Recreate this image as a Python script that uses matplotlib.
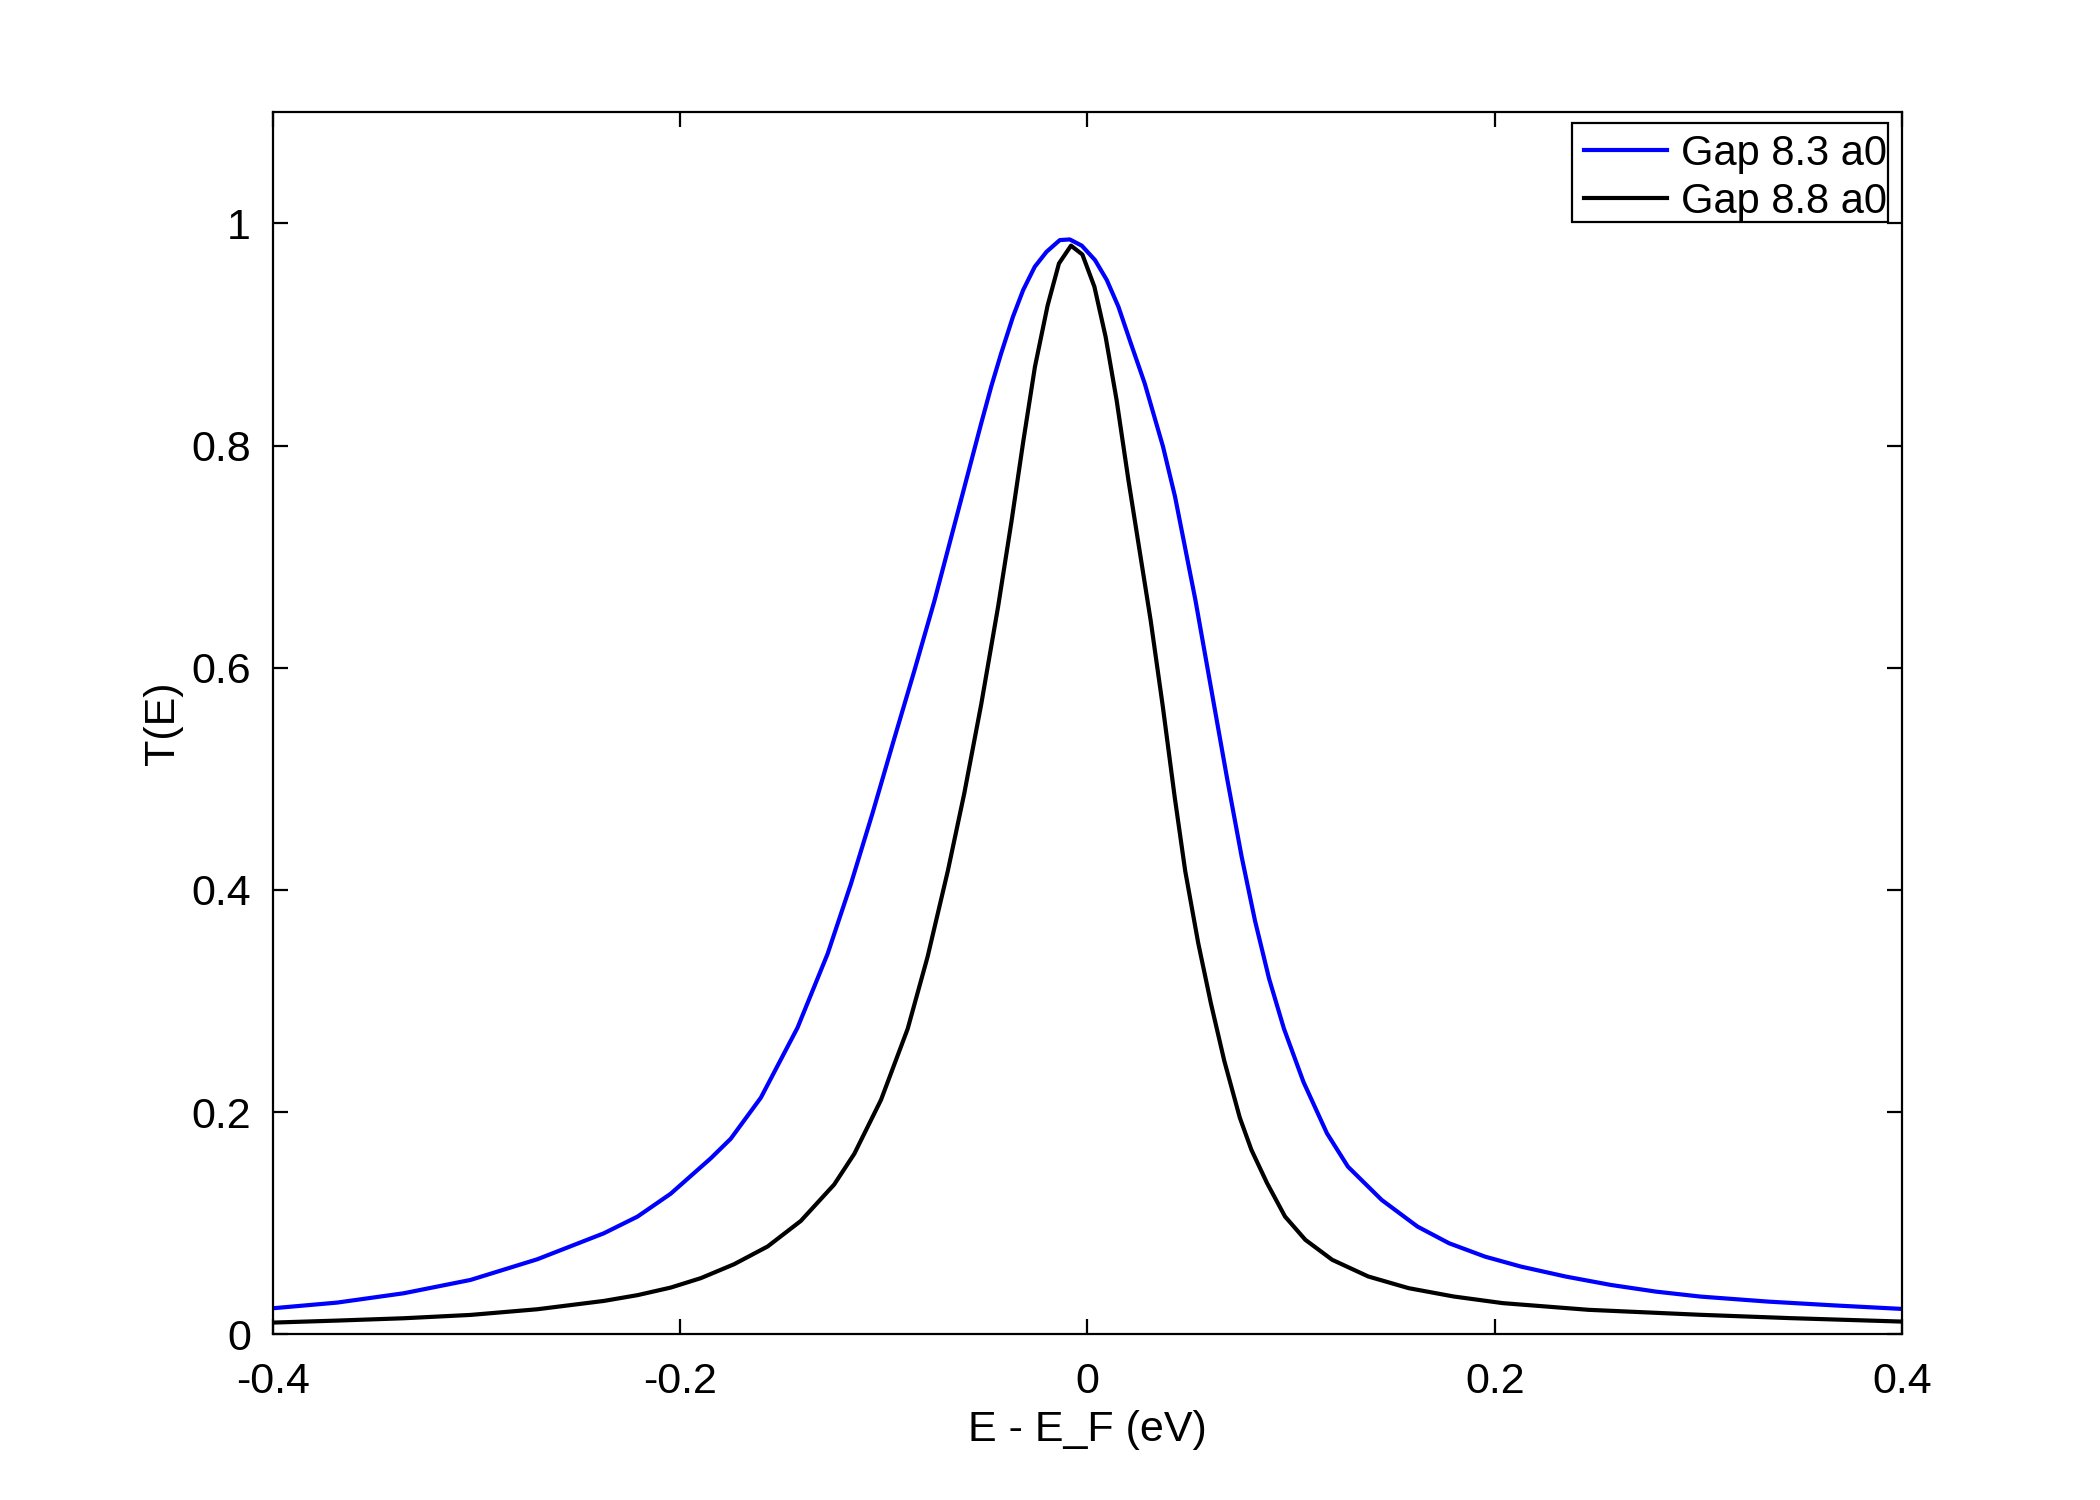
import matplotlib
matplotlib.use('Agg')
import matplotlib.pyplot as plt
from matplotlib.patches import Rectangle

# values
e_gap83 = [-0.400, -0.3685, -0.3358, -0.3030, -0.2702, -0.2375, -0.2210, -0.2047,
           -0.1850, -0.1752, -0.1604, -0.1424, -0.1276, -0.1162, -0.1055, -0.0957,
           -0.0851, -0.0752, -0.0522, -0.0473, -0.0424, -0.0366, -0.0316, -0.0259,
           -0.0201, -0.0136, -0.0087, -0.0028, 0.0037, 0.0095, 0.0152, 0.0213,
           0.0281, 0.0371, 0.0430, 0.0530, 0.0623, 0.0686, 0.0757, 0.0823, 0.0892,
           0.0965, 0.1061, 0.1176, 0.1279, 0.1445, 0.1621, 0.1776, 0.1952, 0.2129,
           0.2350, 0.2570, 0.2791, 0.3011, 0.3342, 0.3674, 0.400]
t_gap83 = [0.0234, 0.0285, 0.0369, 0.0489, 0.0675, 0.0909, 0.1059, 0.1265,
           0.1584, 0.1760, 0.213, 0.276, 0.3426, 0.4053, 0.4695, 0.5312,
           0.5969, 0.660, 0.820, 0.853, 0.883, 0.916, 0.940, 0.961,
           0.9745, 0.985, 0.9856, 0.980, 0.967, 0.949, 0.925, 0.892,
           0.856, 0.799, 0.754, 0.661, 0.565, 0.500, 0.430, 0.372, 0.320,
           0.275, 0.227, 0.1809, 0.1509, 0.1209, 0.0969, 0.0819, 0.0699, 0.0609,
           0.0519, 0.0444, 0.0384, 0.0339, 0.0294, 0.0259, 0.0228]

e_gap88 = [-0.400, -0.3685, -0.3358, -0.3030, -0.2702, -0.2375, -0.2210, -0.2047,
           -0.1899, -0.1736, -0.1571, -0.1408, -0.1244, -0.1145, -0.1014, -0.0883,
           -0.0785, -0.0686, -0.0605, -0.0522, -0.0439, -0.0373, -0.0316, -0.0258,
           -0.0196, -0.0140, -0.0081, -0.0025, 0.0034, 0.0089, 0.0143, 0.0201,
           0.0258, 0.0310, 0.0370, 0.0428, 0.0480, 0.0544, 0.0606, 0.0672, 0.0748,
           0.0805, 0.0882, 0.0970, 0.1070, 0.1202, 0.1379, 0.1577, 0.1798, 0.2040,
           0.2460, 0.3011, 0.3453, 0.400]
t_gap88 = [0.0105, 0.0123, 0.0144, 0.0174, 0.0225, 0.0300, 0.0352, 0.0420,
           0.0505, 0.0630, 0.0790, 0.1020, 0.1348, 0.1625, 0.211, 0.275,
           0.340, 0.417, 0.487, 0.567, 0.655, 0.732, 0.803, 0.871,
           0.926, 0.964, 0.980, 0.972, 0.943, 0.898, 0.841, 0.769,
           0.703, 0.643, 0.565, 0.484, 0.417, 0.352, 0.298, 0.246, 0.195,
           0.166, 0.136, 0.106, 0.085, 0.067, 0.052, 0.0415, 0.034, 0.028,
           0.022, 0.0175, 0.0145, 0.0114]

labels = ['Gap 8.3 a0', 'Gap 8.8 a0']
x_ticks = [-0.4, -0.2, 0, 0.2, 0.4]
x_ticklabels = ['-0.4', '-0.2', '0', '0.2', '0.4']
y_ticks = [0, 0.2, 0.4, 0.6, 0.8, 1]
y_ticklabels = ['0', '0.2', '0.4', '0.6', '0.8', '1']

plt.rcParams['font.family'] = ['Liberation Sans', 'DejaVu Sans']
plt.rcParams['font.size'] = 15.5

fig = plt.figure(figsize=(10.5, 7.5), dpi=200)
ax = fig.add_axes([0.13, 0.1105, 0.7757, 0.8146])

ax.plot(e_gap83, t_gap83, color='#0000ff', lw=1.5, label=labels[0])
ax.plot(e_gap88, t_gap88, color='black', lw=1.5, label=labels[1])

ax.set_xlim(-0.4, 0.4)
ax.set_ylim(0, 1.1)
ax.set_xticks(x_ticks)
ax.set_xticklabels(x_ticklabels)
ax.set_yticks(y_ticks)
ax.set_yticklabels(y_ticklabels)
ax.tick_params(direction='in', length=5.5, width=0.8, top=True, right=True)
ax.tick_params(axis='x', pad=10)
ax.tick_params(axis='y', pad=8)
for sp in ax.spines.values():
    sp.set_linewidth(0.8)

ax.set_xlabel('E - E_F (eV)', labelpad=3)
ax.set_ylabel('T(E)', labelpad=3)

# legend box like the MATLAB one: text slightly spills over the frame
ax.add_patch(Rectangle((0.7976, 0.910), 0.1938, 0.0815, transform=ax.transAxes,
                       fill=False, edgecolor='black', lw=0.8, zorder=4))
ax.legend(loc='upper left', bbox_to_anchor=(0.8049, 0.9825), borderaxespad=0,
          frameon=False, fontsize=15, handlelength=1.99, handletextpad=0.33,
          borderpad=0, labelspacing=0.19)

fig.savefig('out.png', dpi=200)
